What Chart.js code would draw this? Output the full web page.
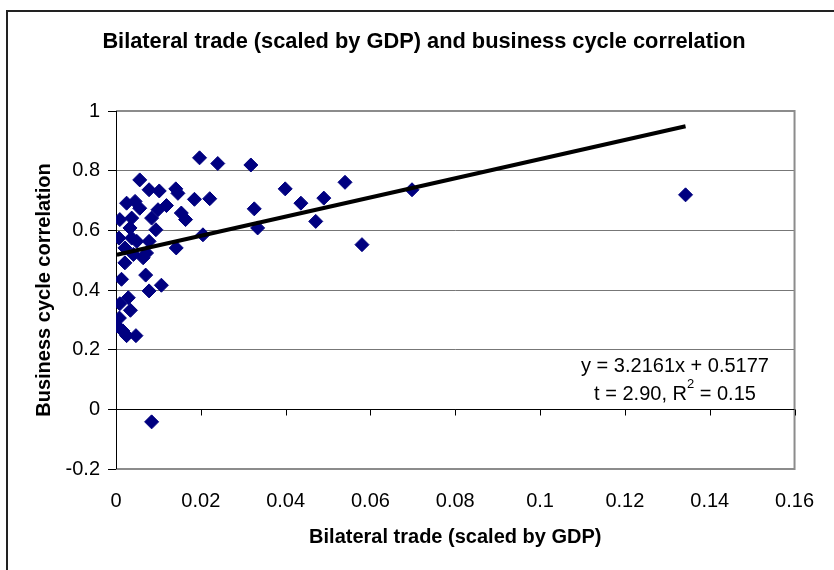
<!DOCTYPE html>
<html><head><meta charset="utf-8">
<script src="https://cdn.jsdelivr.net/npm/chart.js@4"></script>
<style>html,body{margin:0;padding:0;background:#fff;}#wrap{width:834px;height:570px;position:relative;}</style>
</head><body><div id="wrap"><canvas id="c"></canvas></div>
<script>
// ---- data ----
const tradeX = [0.0197,0.0240,0.0318,0.0056,0.0078,0.0102,0.0141,0.0146,0.0185,0.0221,
                0.0399,0.0025,0.0045,0.0056,0.0119,0.0099,0.0326,0.0154,0.0164,0.0084,
                0.0094,0.0009,0.0037,0.0033,0.0007,0.0037,0.0049,0.0078,0.0205,0.0334,
                0.0436,0.0490,0.0540,0.0471,0.0698,0.0580,0.0142,0.0021,0.0064,0.0021,
                0.0041,0.0072,0.0013,0.0070,0.0078,0.0107,0.0029,0.0009,0.0034,0.0008,
                0.0002,0.0016,0.0025,0.0047,0.0084,0.1343];
const cycleCorr = [0.843,0.824,0.819,0.769,0.736,0.732,0.739,0.724,0.704,0.706,
                   0.739,0.691,0.697,0.674,0.683,0.669,0.672,0.658,0.636,0.641,
                   0.602,0.636,0.641,0.608,0.574,0.574,0.563,0.563,0.585,0.608,
                   0.691,0.708,0.761,0.630,0.736,0.552,0.541,0.541,0.508,0.491,
                   0.519,0.524,0.436,0.450,0.397,0.416,0.374,0.354,0.332,0.306,
                   0.280,0.263,0.247,0.247,-0.042,0.719];
const trendX = [0.0002, 0.1343];
const trendY = [0.518, 0.949];
const xTickLabels = ['0','0.02','0.04','0.06','0.08','0.1','0.12','0.14','0.16'];
const yTickLabels = ['-0.2','0','0.2','0.4','0.6','0.8','1'];
const chartTitle = 'Bilateral trade (scaled by GDP) and business cycle correlation';
const xAxisTitle = 'Bilateral trade (scaled by GDP)';
const yAxisTitle = 'Business cycle correlation';
const eqLine1 = 'y = 3.2161x + 0.5177';
const eqLine2a = 't = 2.90, R';
const eqLine2sup = '2';
const eqLine2b = ' = 0.15';

const FONT = "'Liberation Sans', Arial, sans-serif";

const points = tradeX.map((x, i) => ({x: x, y: cycleCorr[i]}));
const trend = trendX.map((x, i) => ({x: x, y: trendY[i]}));

const deco = {
  id: 'deco',
  beforeDraw(chart) {
    const ctx = chart.ctx;
    ctx.save();
    ctx.fillStyle = '#fff';
    ctx.fillRect(0, 0, chart.width, chart.height);
    ctx.strokeStyle = '#222';
    ctx.lineWidth = 2;
    ctx.beginPath();
    ctx.moveTo(7, chart.height + 5);
    ctx.lineTo(7, 11);
    ctx.lineTo(chart.width + 5, 11);
    ctx.stroke();
    ctx.restore();
  },
  beforeDatasetsDraw(chart) {
    const ctx = chart.ctx;
    const a = chart.chartArea;
    const xs = chart.scales.x, ys = chart.scales.y;
    ctx.save();
    // plot border (top, right, bottom)
    ctx.strokeStyle = '#8c8c8c';
    ctx.lineWidth = 2;
    ctx.beginPath();
    ctx.moveTo(a.left, a.top);
    ctx.lineTo(a.right, a.top);
    ctx.lineTo(a.right, a.bottom);
    ctx.lineTo(a.left, a.bottom);
    ctx.stroke();
    // horizontal axis crossing at y = 0
    const y0 = Math.round(ys.getPixelForValue(0)) + 0.5;
    ctx.strokeStyle = '#000';
    ctx.lineWidth = 1;
    ctx.beginPath();
    ctx.moveTo(a.left, y0);
    ctx.lineTo(a.right, y0);
    xs.ticks.forEach(t => {
      const px = Math.round(xs.getPixelForValue(t.value)) + 0.5;
      ctx.moveTo(px, y0);
      ctx.lineTo(px, y0 + 6);
    });
    ctx.stroke();
    // y axis line
    ctx.beginPath();
    ctx.moveTo(Math.round(a.left) + 0.5, a.top);
    ctx.lineTo(Math.round(a.left) + 0.5, a.bottom);
    ctx.stroke();
    ctx.restore();
  },
  afterDraw(chart) {
    const ctx = chart.ctx;
    ctx.save();
    ctx.fillStyle = '#000';
    ctx.textBaseline = 'alphabetic';
    ctx.textAlign = 'center';
    ctx.font = 'bold 21.8px ' + FONT;
    ctx.fillText(chartTitle, 424, 48);
    // regression text
    ctx.font = '20px ' + FONT;
    ctx.fillText(eqLine1, 675, 372);
    ctx.textAlign = 'left';
    const wa = ctx.measureText(eqLine2a).width;
    const wb = ctx.measureText(eqLine2b).width;
    ctx.font = '13px ' + FONT;
    const ws = ctx.measureText(eqLine2sup).width;
    let sx = 675 - (wa + ws + wb) / 2;
    ctx.font = '20px ' + FONT;
    ctx.fillText(eqLine2a, sx, 400);
    sx += wa;
    ctx.font = '13px ' + FONT;
    ctx.fillText(eqLine2sup, sx, 388);
    sx += ws;
    ctx.font = '20px ' + FONT;
    ctx.fillText(eqLine2b, sx, 400);
    ctx.restore();
  }
};

new Chart(document.getElementById('c'), {
  type: 'scatter',
  data: {
    datasets: [
      {
        type: 'line',
        data: trend,
        borderColor: '#000',
        borderWidth: 4,
        pointRadius: 0,
        showLine: true,
        fill: false
      },
      {
        data: points,
        pointStyle: 'rectRot',
        pointRadius: 7,
        pointBackgroundColor: '#000080',
        pointBorderColor: '#000080',
        pointBorderWidth: 1
      }
    ]
  },
  options: {
    responsive: true,
    maintainAspectRatio: false,
    animation: false,
    devicePixelRatio: 1,
    layout: { padding: { top: 111, right: 36, bottom: 0, left: 0 } },
    plugins: { legend: { display: false }, tooltip: { enabled: false }, title: { display: false } },
    scales: {
      x: {
        type: 'linear',
        min: 0, max: 0.16,
        afterFit(s) { s.height = 101; },
        grid: { display: false, drawTicks: false, tickLength: 0 },
        border: { display: false },
        ticks: {
          stepSize: 0.02,
          padding: 20,
          color: '#000',
          font: { family: FONT, size: 20 },
          maxRotation: 0,
          autoSkip: false,
          callback: (v, i) => xTickLabels[i]
        },
        title: {
          display: true,
          text: xAxisTitle,
          color: '#000',
          font: { family: FONT, size: 20, weight: 'bold' },
          padding: { top: 0, bottom: 21 }
        }
      },
      y: {
        type: 'linear',
        min: -0.2, max: 1,
        afterFit(s) { s.width = 116; },
        grid: { color: '#777', tickColor: '#000', tickLength: 8, lineWidth: 1 },
        border: { display: true, color: '#000', width: 1 },
        ticks: {
          stepSize: 0.2,
          padding: 8,
          color: '#000',
          font: { family: FONT, size: 20 },
          callback: (v, i) => yTickLabels[i]
        },
        title: {
          display: true,
          text: yAxisTitle,
          color: '#000',
          font: { family: FONT, size: 20, weight: 'bold' },
          padding: { top: 32, bottom: 0 }
        }
      }
    }
  },
  plugins: [deco]
});
</script>
</body></html>
